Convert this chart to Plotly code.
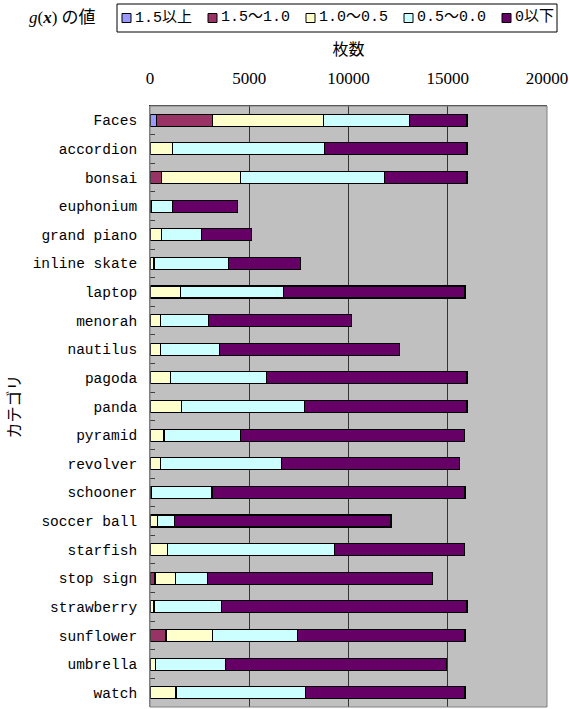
import plotly.graph_objects as go

# Image categories (top to bottom)
categories = [
    "Faces", "accordion", "bonsai", "euphonium", "grand piano", "inline skate",
    "laptop", "menorah", "nautilus", "pagoda", "panda", "pyramid", "revolver",
    "schooner", "soccer ball", "starfish", "stop sign", "strawberry",
    "sunflower", "umbrella", "watch",
]

# Number of images per g(x) range
g_over_15 = [320, 0, 0, 0, 0, 0, 0, 0, 0, 0, 0, 0, 0, 0, 0, 0, 0, 0, 0, 0, 0]
g_15_10 = [2820, 0, 590, 0, 0, 0, 0, 0, 0, 0, 0, 0, 0, 0, 0, 0, 250, 0, 805, 0, 0]
g_10_05 = [5600, 1125, 3985, 60, 570, 200, 1530, 540, 540, 1040, 1600, 705, 520,
           80, 370, 875, 1030, 200, 2340, 270, 1310]
g_05_00 = [4320, 7650, 7225, 1065, 2020, 3735, 5180, 2385, 2975, 4810, 6200, 3835,
           6105, 3045, 860, 8425, 1610, 3400, 4270, 3515, 6525]
g_below_0 = [2910, 7195, 4170, 3280, 2540, 3665, 9160, 7230, 9045, 10120, 8170,
             11300, 8960, 12745, 10910, 6540, 11335, 12370, 8455, 11130, 8035]

series_names = ["1.5以上", "1.5～1.0", "1.0～0.5", "0.5～0.0", "0以下"]
series_values = [g_over_15, g_15_10, g_10_05, g_05_00, g_below_0]
series_colors = ["#9999FF", "#993366", "#FFFFCC", "#CCFFFF", "#660066"]

x_ticks = [0, 5000, 10000, 15000, 20000]

W, H = 569, 709
M_L, M_R, M_T, M_B = 150, 22, 106, 2
PLOT_W = W - M_L - M_R
PLOT_H = H - M_T - M_B


def px_x(px):
    """Page pixel column -> paper x."""
    return (px - M_L) / PLOT_W


def px_y(py):
    """Page pixel row -> paper y."""
    return 1 - (py - M_T) / PLOT_H


fig = go.Figure()
for name, vals, color in zip(series_names, series_values, series_colors):
    fig.add_trace(go.Bar(
        y=categories, x=vals, name=name, orientation="h", width=0.42,
        marker=dict(color=color, line=dict(color="#000000", width=1.1)),
    ))

mono_jp = "Liberation Mono, Noto Sans CJK JP"
serif_jp = "Liberation Serif, Noto Sans CJK JP"

# Legend strip across the top: framed box with a swatch + label per series
legend_box = dict(left=117, right=557, top=4, bottom=32)
swatch_left = [122, 208, 306, 404, 502]
swatch_size = 9
legend_mid = (legend_box["top"] + legend_box["bottom"]) / 2

shapes = [
    dict(type="rect", xref="paper", yref="paper",
         x0=px_x(legend_box["left"]), x1=px_x(legend_box["right"]),
         y0=px_y(legend_box["bottom"]), y1=px_y(legend_box["top"]),
         fillcolor="#FFFFFF", line=dict(color="#000000", width=1)),
]
annotations = [dict(
    text="<i>g</i>(<b><i>x</i></b>) の値", xref="paper", yref="paper",
    x=px_x(62), y=px_y(18), xanchor="center", yanchor="middle", showarrow=False,
    font=dict(family=serif_jp, size=17, color="#000000"),
)]
for name, color, sx in zip(series_names, series_colors, swatch_left):
    shapes.append(dict(
        type="rect", xref="paper", yref="paper",
        x0=px_x(sx), x1=px_x(sx + swatch_size),
        y0=px_y(legend_mid + swatch_size / 2), y1=px_y(legend_mid - swatch_size / 2),
        fillcolor=color, line=dict(color="#000000", width=1),
    ))
    annotations.append(dict(
        text=name, xref="paper", yref="paper",
        x=px_x(sx + swatch_size + 2), y=px_y(legend_mid),
        xanchor="left", yanchor="middle", showarrow=False,
        font=dict(family=mono_jp, size=15, color="#000000"),
    ))

# Plot-area frame (grey), drawn over the bars like the axis lines
shapes.append(dict(type="rect", xref="paper", yref="paper", x0=0, x1=1, y0=0, y1=1,
                   line=dict(color="#808080", width=1), layer="above"))

fig.update_layout(
    width=W, height=H,
    margin=dict(l=M_L, r=M_R, t=M_T, b=M_B),
    barmode="stack",
    paper_bgcolor="#FFFFFF",
    plot_bgcolor="#C0C0C0",
    showlegend=False,
    xaxis=dict(
        side="top", range=[0, 20000], tickvals=x_ticks,
        ticktext=[str(v) for v in x_ticks],
        showgrid=True, gridcolor="#333333", gridwidth=1,
        zeroline=False, ticks="", ticklabelstandoff=14,
        showline=True, linecolor="#333333", linewidth=1,
        tickfont=dict(family=serif_jp, size=17, color="#000000"),
        title=dict(text="枚数", font=dict(family=serif_jp, size=16, color="#000000"),
                   standoff=9),
    ),
    yaxis=dict(
        type="category", autorange="reversed",
        tickson="boundaries", ticks="inside", ticklen=5, tickcolor="#404040",
        showgrid=False, zeroline=False,
        showline=True, linecolor="#808080", linewidth=1,
        ticklabelstandoff=9,
        tickfont=dict(family=mono_jp, size=14.5, color="#000000"),
        title=dict(text="カテゴリ", font=dict(family=serif_jp, size=16, color="#000000"),
                   standoff=8),
    ),
    shapes=shapes,
    annotations=annotations,
)

fig.write_html("out.html")
